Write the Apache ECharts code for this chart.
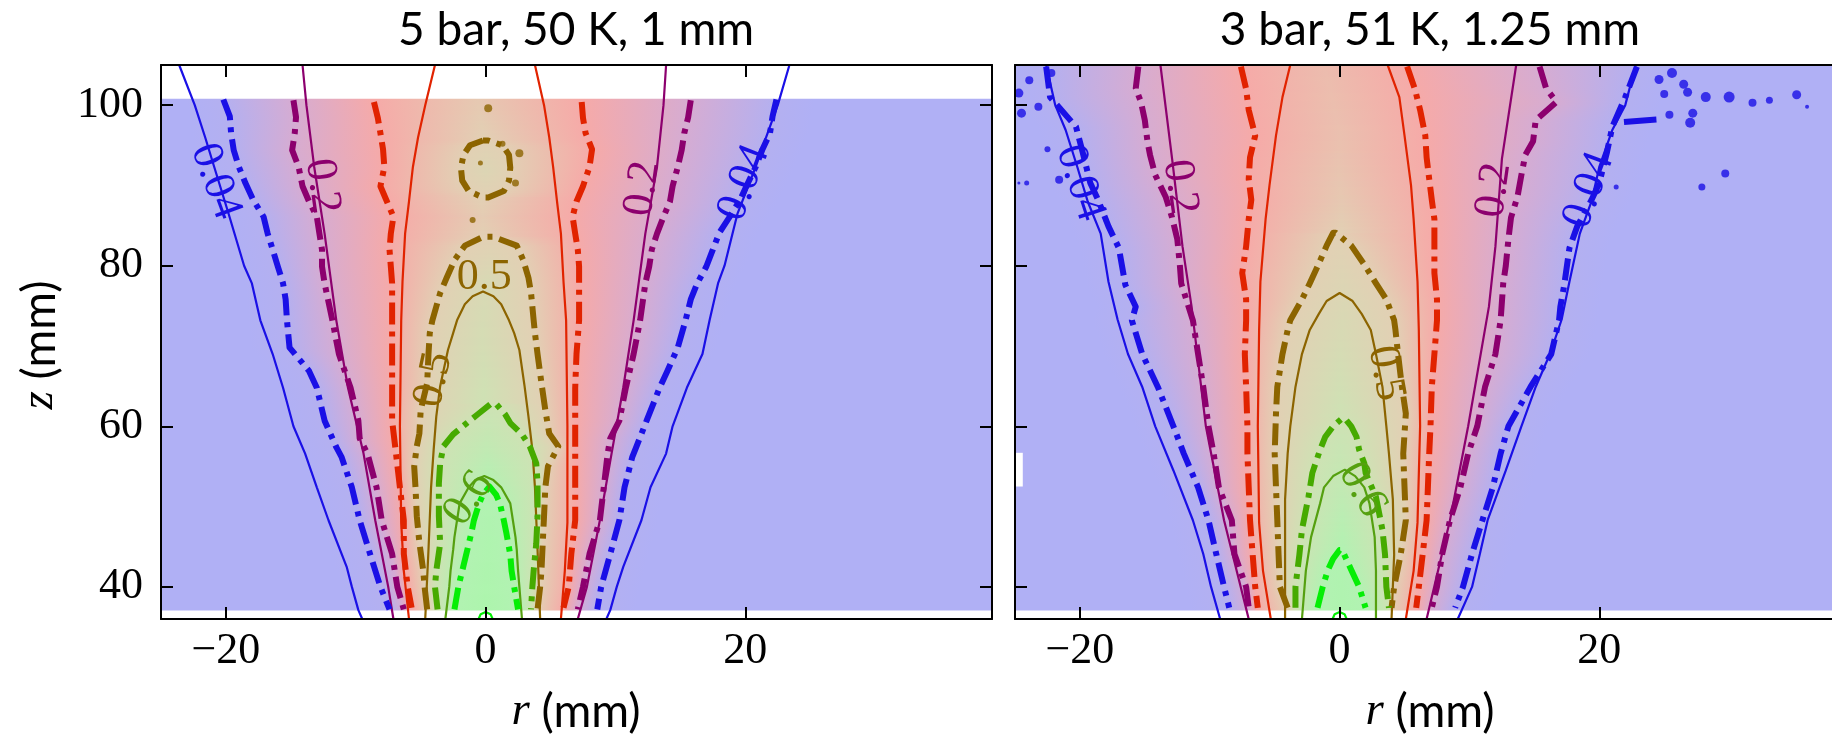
<!DOCTYPE html>
<html>
<head>
<meta charset="utf-8">
<script src="https://cdn.jsdelivr.net/npm/echarts@6/dist/echarts.min.js"></script>
<style>
html, body { margin: 0; padding: 0; background: #fff; }
#chart { width: 1832px; height: 738px; }
</style>
</head>
<body>
<div id="chart"></div>
<script>
// ---------- labels and ticks ----------
const panelTitles = ['5 bar, 50 K, 1 mm', '3 bar, 51 K, 1.25 mm'];
const xTicks = [-20, 0, 20];
const yTicks = [40, 60, 80, 100];
const rRange = [-25, 39];
const zRange = [36, 105];

// contour levels (index 0..5) and their colours
const levels = [0.04, 0.2, 0.35, 0.5, 0.6, 0.8];
const levelColors = ['#1a10e6', '#8c006e', '#e12300', '#8c6400', '#46aa00', '#05ee05'];
const modelColors = ['#1a10e6', '#8c006e', '#e12300', '#8c6400', '#55a010', '#05ee05'];

// colour of the measured field as a function of the mole fraction
const fieldPalette = [[0, '#b0b0f5'], [0.04, '#b4b0f0'], [0.2, '#d6acd2'], [0.35, '#f6aaa8'],
                      [0.5, '#e2d0b4'], [0.6, '#cee2b4'], [0.8, '#b2f2b2'], [1, '#a8f8a8']];

// ---------- panel A : 5 bar, 50 K, 1 mm ----------
// rows are [z, r on the left branch, r on the right branch], z descending
const A_fieldZ = [37.1, 100.75];
const A_exp_004 = [[100.7,-20.2,22.4],[98.6,-19.7,22.1],[96.5,-19.6,21.9],[94.4,-19.4,21.3],[92.3,-19.0,20.8],
  [90.3,-18.5,20.2],[88.2,-17.9,19.6],[86.1,-17.1,18.8],[84.1,-16.8,18.0],[82.0,-16.4,17.5],[79.9,-16.0,17.0],
  [77.8,-15.6,16.3],[75.8,-15.4,15.8],[73.2,-15.3,15.4],[69.8,-15.1,14.8],[66.9,-13.6,14.0],[64.8,-13.0,13.4],
  [60.7,-12.4,12.4],[57.4,-11.5,11.6],[56.2,-11.1,11.3],[52.4,-10.3,10.7],[48.3,-9.7,10.3],[44.1,-8.9,9.6],
  [40.0,-8.1,8.9],[37.2,-7.4,8.6]];
const A_exp_02 = [[100.6,-14.8,15.8],[98.5,-14.6,15.6],[96.5,-14.7,15.3],[94.4,-14.9,15.1],[92.3,-14.4,14.8],
  [89.9,-14.1,14.4],[88.0,-13.6,14.2],[86.1,-13.0,13.7],[84.0,-12.8,13.2],[82.0,-12.6,12.8],[79.9,-12.6,12.6],
  [77.8,-12.4,12.3],[75.5,-12.1,12.1],[73.2,-11.8,11.9],[69.0,-11.3,11.4],[64.8,-10.4,10.8],[60.7,-9.8,10.3],
  [58.5,-9.7,9.6],[56.6,-9.1,9.4],[52.4,-8.4,9.1],[48.3,-8.0,8.8],[44.1,-7.2,8.0],[40.0,-6.8,7.5],[37.2,-6.3,7.1]];
const A_exp_035 = [[100.4,-8.6,7.4],[98.4,-8.3,7.5],[96.5,-8.1,7.7],[94.5,-7.9,8.2],[92.3,-7.8,8.0],[89.9,-8.1,7.5],
  [88.0,-7.6,7.0],[86.1,-7.1,6.7],[84.0,-7.3,6.9],[82.0,-7.4,7.1],[79.9,-7.3,7.2],[77.8,-7.2,7.2],[73.2,-7.2,7.2],
  [69.0,-7.2,7.0],[64.8,-7.2,6.9],[60.7,-7.2,6.9],[56.6,-6.9,6.9],[52.4,-6.6,6.9],[48.3,-6.3,6.9],[44.1,-6.3,6.6],
  [40.0,-6.0,6.4],[37.4,-5.7,6.0]];
const A_exp_05 = [[83.6,-0.2,0.6],[82.5,-1.6,2.4],[80.7,-2.4,2.9],[78.5,-3.0,3.3],[76.6,-3.5,3.5],[73.2,-4.1,3.7],
  [71.6,-4.3,3.8],[69.0,-4.4,4.0],[65.4,-4.5,4.3],[62.0,-5.0,4.6],[59.1,-5.1,4.9],[57.5,-5.3,5.6],[55.0,-5.5,4.8],
  [52.4,-5.4,4.6],[48.8,-5.3,4.5],[45.5,-5.1,4.4],[42.0,-4.8,4.3],[40.0,-4.7,4.2],[37.2,-4.5,4.0]];
const A_exp_05_island = [[95.6,-0.2,0.2],[95.0,-1.2,1.3],[93.8,-1.7,1.8],[92.2,-1.9,1.9],[90.6,-1.8,1.8],
  [89.3,-1.3,1.4],[88.5,-0.2,0.2]];
const A_exp_06 = [[62.8,0.4,0.8],[61.5,-0.6,1.5],[60.4,-1.45,1.9],[59.0,-2.5,2.8],[57.5,-3.25,3.4],[55.4,-3.5,3.9],
  [52.9,-3.6,4.0],[48.8,-3.6,4.0],[45.4,-3.5,3.9],[42.0,-3.8,3.7],[40.0,-3.9,3.6],[37.2,-3.7,3.5]];
const A_exp_08 = [[52.5,0.3,0.4],[51.5,-0.2,0.8],[50.4,-0.5,1.1],[48.3,-0.9,1.4],[46.7,-1.1,1.6],[44.0,-1.5,1.9],
  [42.0,-1.8,2.0],[40.0,-2.1,2.2],[37.2,-2.4,2.5]];

const A_mod_004 = [[105,-23.6,23.4],[100,-22.4,22.5],[96,-21.6,21.6],[92.3,-20.9,20.8],[86.5,-19.8,19.4],
  [80,-18.6,18.4],[77.8,-18.0,17.9],[73.2,-17.35,17.25],[69,-16.4,16.7],[64.8,-15.6,15.5],[60,-14.8,14.4],
  [56.6,-13.9,13.9],[52.4,-13.0,12.7],[48.3,-12.1,12.0],[42.5,-10.7,10.6],[40,-10.3,10.1],[37.1,-9.8,9.6],[36,-9.5,9.3]];
const A_mod_02 = [[105,-14.1,13.9],[100,-13.8,13.7],[92.3,-13.2,13.2],[84,-12.4,12.3],[73.2,-11.5,11.4],
  [64.8,-10.6,10.6],[56.6,-9.4,9.7],[48.3,-8.5,8.8],[40,-7.5,7.8],[36,-7.1,7.1]];
const A_mod_035 = [[105,-3.9,3.8],[100,-4.65,4.5],[96,-5.2,4.9],[92.3,-5.6,5.2],[88,-5.9,5.5],[84,-6.2,5.8],
  [78,-6.4,6.0],[73.2,-6.5,6.2],[60,-6.6,6.3],[48,-6.5,6.3],[42,-6.3,6.1],[36,-5.9,5.8]];
const A_mod_05 = [[76.8,-0.2,-0.2],[76.2,-1.0,0.6],[75.2,-1.6,1.2],[73.2,-2.2,1.8],[71.6,-2.5,2.2],[69.5,-2.9,2.6],
  [65,-3.5,3.0],[61.2,-3.8,3.3],[57.1,-4.0,3.6],[52.4,-4.2,3.8],[44.6,-4.4,4.0],[36,-4.65,4.2]];
const A_mod_06 = [[53.8,-0.1,-0.1],[53.3,-0.8,0.6],[52.4,-1.3,1.2],[50.4,-2.0,1.9],[48.3,-2.2,2.1],[46.2,-2.4,2.3],
  [44.6,-2.5,2.4],[42,-2.7,2.5],[40,-2.8,2.6],[36,-3.1,2.8]];
const A_mod_08 = [[36.87,0,0],[36.6,-0.38,0.38],[36,-0.54,0.54]];

// value on the axis r = 0, [z, value]
const A_center = [[100.75,0.47],[96,0.5],[92,0.53],[88.3,0.5],[86,0.48],[83.6,0.5],[78,0.55],[70,0.57],
  [62.8,0.6],[57,0.7],[52.5,0.8],[45,0.86],[37.1,0.9]];

// contour labels [r, z, text, rotation in degrees, level index]
const A_labels = [[-20.8,90.5,'0.04',-70,0],[19.9,90.3,'0.04',69,0],[-12.6,89.9,'0.2',-82,1],[12.1,89.6,'0.2',82,1],
  [-0.1,78.6,'0.5',0,3],[-4.0,65.8,'0.5',78,3],[-1.3,51.0,'0.6',55,4]];
// isolated specks of the 0.5 contour [r, z, size]
const A_specks = [[0.2,99.6,8],[-1.0,85.7,6],[2.3,90.3,7],[1.3,95.2,6],[2.6,94.0,8],[-0.4,92.8,5]];

// ---------- panel B : 3 bar, 51 K, 1.25 mm ----------
const B_fieldZ = [37.1, 105];
const B_exp_004 = [[104.8,-22.6,22.9],[101,-22.3,22.0],[97.3,-20.3,21.0],[94.2,-19.8,20.6],[90.3,-19.2,20.0],
  [88.2,-18.6,19.4],[84.9,-17.8,18.3],[82.2,-17.0,17.7],[77.6,-16.5,17.3],[74.9,-15.7,17.0],[73.2,-16.0,16.9],
  [69,-15.2,16.3],[64.9,-14.0,14.7],[60,-12.8,13.0],[56.6,-12.0,12.4],[52.4,-10.9,11.8],[48.3,-10.1,11.0],
  [44.1,-9.5,10.2],[40,-8.9,9.5],[37.4,-8.5,8.9]];
const B_exp_02 = [[104.8,-15.5,15.4],[102.1,-15.7,15.9],[100.4,-15.3,16.7],[98.1,-15.0,15.1],[95.5,-14.8,14.9],
  [93.8,-14.6,14.3],[91.3,-14.2,14.0],[88.6,-13.4,13.7],[86,-12.9,13.2],[83.3,-12.5,13.0],[80,-12.3,12.8],
  [77.8,-12.2,12.6],[73.2,-11.3,12.4],[69,-10.9,12.0],[64.9,-10.5,11.2],[60,-10.1,10.6],[56.6,-9.7,9.9],
  [52.4,-9.3,9.3],[48.3,-8.3,8.5],[44.1,-8.1,7.9],[40,-7.2,7.5],[37.4,-7.0,7.1]];
const B_exp_035 = [[104.8,-7.6,5.2],[102,-7.2,5.8],[99.4,-7.0,6.2],[96.2,-6.5,6.6],[93.5,-6.9,6.7],[90.8,-7.0,6.9],
  [88.2,-6.8,7.1],[85.8,-7.0,7.3],[82.4,-7.2,7.3],[79.1,-7.5,7.3],[75.8,-7.2,7.5],[73.2,-7.2,7.5],[69,-7.3,7.3],
  [64.9,-7.2,7.1],[60,-7.1,7.0],[56.6,-7.1,6.9],[52.4,-7.0,6.8],[48.3,-6.9,6.7],[44.1,-6.7,6.4],[40,-6.5,6.1],
  [37.4,-6.3,5.9]];
const B_exp_05 = [[84.1,-0.5,-0.3],[82.5,-1.0,0.9],[79.9,-1.7,2.0],[77.8,-2.3,2.8],[75.8,-2.9,3.6],[73.2,-3.8,4.2],
  [72,-4.0,4.3],[69,-4.4,4.5],[64.9,-4.8,4.8],[61.6,-4.9,5.1],[56.6,-5.0,4.9],[52.4,-4.9,5.0],[48.3,-4.8,5.1],
  [44,-4.7,4.7],[40,-4.6,4.2],[37.4,-4.0,4.0]];
const B_exp_06 = [[61,0.2,0.4],[60,-0.5,0.9],[58.7,-1.1,1.3],[57.1,-1.5,1.5],[55.4,-1.85,1.9],[54.2,-2.1,2.0],
  [51.2,-2.4,2.8],[47.1,-2.9,3.3],[44,-3.1,3.5],[40,-3.4,3.6],[37.4,-3.4,3.8]];
const B_exp_08 = [[44.6,0.0,0.2],[43.5,-0.5,0.5],[42.1,-0.9,0.9],[40,-1.3,1.5],[37.4,-1.7,2.0]];

const B_mod_004 = [[105,-22.6,22.8],[100,-21.9,22.0],[96.9,-21.1,21.0],[92.3,-20.2,20.0],[88,-19.4,19.4],
  [84,-18.4,18.5],[78,-17.8,17.7],[73.3,-17.1,17.1],[69,-16.3,16.2],[64.9,-15.2,15.1],[60,-14.2,14.0],
  [54.5,-12.8,12.8],[48.3,-11.3,11.4],[44.1,-10.5,10.8],[40,-9.9,10.2],[36,-9.2,9.1]];
const B_mod_02 = [[105,-13.8,13.6],[93.3,-12.9,12.5],[82.4,-12.1,12.0],[74.9,-11.4,11.5],[60,-10.3,9.9],
  [48.3,-8.9,8.5],[36,-7.0,6.7]];
const B_mod_035 = [[105,-3.8,3.7],[101,-4.4,4.6],[96.2,-4.9,5.0],[90,-5.4,5.5],[85.8,-5.7,5.7],[78,-6.1,6.0],
  [72,-6.2,6.1],[60,-6.3,6.2],[48,-6.2,6.0],[42,-5.9,5.7],[36,-5.3,5.1]];
const B_mod_05 = [[76.6,0,0],[75.6,-1.0,1.0],[74,-1.6,1.7],[72,-2.3,2.4],[69,-2.9,2.8],[64.9,-3.4,3.3],[60,-3.8,3.6],
  [56.6,-4.0,3.8],[50.9,-4.2,4.1],[44,-4.2,4.2],[36,-4.2,4.0]];
const B_mod_06 = [[54.6,0.4,0.4],[53.8,-0.5,1.2],[52.4,-1.2,1.9],[50.4,-1.5,2.3],[46.2,-2.2,2.7],[42,-2.6,2.8],
  [36,-2.9,2.8]];
const B_mod_08 = [[36.87,0,0],[36.6,-0.38,0.38],[36,-0.54,0.54]];

const B_center = [[105,0.42],[95,0.44],[88,0.47],[84.1,0.5],[75,0.54],[68,0.57],[61,0.6],[53,0.68],[44.6,0.8],[37.1,0.86]];

const B_labels = [[-20.0,90.3,'0.04',-72,0],[19.2,89.4,'0.04',70,0],[-12.3,89.8,'0.2',-82,1],[11.9,89.4,'0.2',82,1],
  [3.55,66.6,'0.5',-80,3],[1.75,52.1,'0.6',-60,4]];
// isolated specks of the 0.04 contour [r, z, size]
const B_specks = [[25.6,104.0,10],[24.6,103.2,9],[26.5,102.6,9],[25.0,101.4,8],[26.8,101.6,9],[28.2,101.0,10],
  [30.0,101.0,11],[31.8,100.3,8],[33.1,100.6,7],[35.2,101.3,9],[36.0,99.8,4],[27.2,99.0,9],[25.4,98.8,8],
  [27.0,97.8,10],[29.7,91.5,8],[27.9,89.8,7],[21.3,89.8,5],
  [-24.7,101.5,9],[-24.5,99.0,9],[-23.9,103.1,8],[-23.2,99.8,8],[-22.2,104.0,8],[-24.1,90.3,5],[-24.7,90.3,3],
  [-21.6,90.7,8],[-18.0,85.7,5],[-22.5,94.5,6]];
const B_streak = [[21.9,97.9],[24.4,98.2]];
// missing measurement cells [r0, r1, z0, z1]
const B_gaps = [[-25,-24.4,52.5,56.7]];

// ---------- styling ----------
const serif = "'Liberation Serif', 'DejaVu Serif', serif";
const sans = "Lato, 'Open Sans', sans-serif";
const dashPattern = [22, 7, 5, 7];

function hexToRgb(h) { return [1, 3, 5].map(i => parseInt(h.slice(i, i + 2), 16)); }
const paletteRgb = fieldPalette.map(p => [p[0], hexToRgb(p[1])]);
function fieldColor(c) {
  c = Math.max(0, Math.min(1, c));
  for (let i = 0; i < paletteRgb.length - 1; i++) {
    const a = paletteRgb[i], b = paletteRgb[i + 1];
    if (c <= b[0]) {
      const t = (c - a[0]) / (b[0] - a[0]);
      const rgb = a[1].map((v, k) => Math.round(v + (b[1][k] - v) * t));
      return 'rgb(' + rgb.join(',') + ')';
    }
  }
  return 'rgb(' + paletteRgb[paletteRgb.length - 1][1].join(',') + ')';
}

// r of one branch (k = 1 left, 2 right) at height z
function branchAt(rows, z, k) {
  const n = rows.length;
  if (z > rows[0][0] || z < rows[n - 1][0]) return null;
  for (let i = 0; i < n - 1; i++) {
    const a = rows[i], b = rows[i + 1];
    if (z <= a[0] && z >= b[0]) {
      const t = a[0] === b[0] ? 0 : (a[0] - z) / (a[0] - b[0]);
      return a[k] + (b[k] - a[k]) * t;
    }
  }
  return rows[n - 1][k];
}
function centerAt(arr, z) {
  if (z >= arr[0][0]) return arr[0][1];
  for (let i = 0; i < arr.length - 1; i++) {
    const a = arr[i], b = arr[i + 1];
    if (z <= a[0] && z >= b[0]) return a[1] + (b[1] - a[1]) * (a[0] - z) / (a[0] - b[0]);
  }
  return arr[arr.length - 1][1];
}

// horizontal rows of the measured field, each a colour ramp through the contour crossings
function buildRows(zExt, contours, center) {
  const rows = [];
  const dz = 0.25, fade = 3, span = rRange[1] - rRange[0];
  for (let z0 = zExt[0]; z0 < zExt[1] - 1e-6; z0 += dz) {
    const z1 = Math.min(z0 + dz, zExt[1]);
    const zm = (z0 + z1) / 2;
    const L = [], R = [];
    contours.forEach(c => {
      let zq = zm;
      const top = c.rows[0][0], bot = c.rows[c.rows.length - 1][0];
      if (!c.closedTop) zq = Math.min(zq, top);
      if (!c.closedBottom) zq = Math.max(zq, bot);
      const rl = branchAt(c.rows, zq, 1);
      if (rl === null) return;
      L.push([rl, levels[c.level]]);
      R.push([branchAt(c.rows, zq, 2), levels[c.level]]);
    });
    L.sort((a, b) => a[1] - b[1]);
    R.sort((a, b) => a[1] - b[1]);
    for (let i = 1; i < L.length; i++) {
      L[i][0] = Math.max(L[i][0], L[i - 1][0] + 0.05);
      R[i][0] = Math.min(R[i][0], R[i - 1][0] - 0.05);
    }
    const knots = [[rRange[0], 0]];
    let cIn = centerAt(center, zm);
    if (L.length) {
      knots.push([Math.max(rRange[0], L[0][0] - fade), 0]);
      L.forEach(k => knots.push(k));
      const li = L[L.length - 1], ri = R[R.length - 1];
      cIn = Math.max(cIn, li[1]);
      knots.push([(li[0] + ri[0]) / 2, cIn]);
      R.slice().reverse().forEach(k => knots.push(k));
      knots.push([Math.min(rRange[1], R[0][0] + fade), 0]);
    }
    knots.push([rRange[1], 0]);
    let last = 0;
    const stops = knots.map(k => {
      let off = (k[0] - rRange[0]) / span;
      off = Math.max(last, Math.min(1, off));
      last = off;
      return { offset: off, color: fieldColor(k[1]) };
    });
    rows.push({ z0: z0, z1: z1, stops: stops });
  }
  return rows;
}

const panels = [
  {
    fieldZ: A_fieldZ, center: A_center, labels: A_labels, specks: A_specks, speckColor: levelColors[3],
    exp: [
      { rows: A_exp_004, level: 0 }, { rows: A_exp_02, level: 1 }, { rows: A_exp_035, level: 2 },
      { rows: A_exp_05, level: 3, closedTop: true }, { rows: A_exp_05_island, level: 3, closedTop: true, closedBottom: true },
      { rows: A_exp_06, level: 4, closedTop: true }, { rows: A_exp_08, level: 5, closedTop: true }
    ],
    model: [
      { rows: A_mod_004, level: 0 }, { rows: A_mod_02, level: 1 }, { rows: A_mod_035, level: 2 },
      { rows: A_mod_05, level: 3, closedTop: true }, { rows: A_mod_06, level: 4, closedTop: true },
      { rows: A_mod_08, level: 5, closedTop: true }
    ],
    gaps: [], streak: null
  },
  {
    fieldZ: B_fieldZ, center: B_center, labels: B_labels, specks: B_specks, speckColor: levelColors[0],
    exp: [
      { rows: B_exp_004, level: 0 }, { rows: B_exp_02, level: 1 }, { rows: B_exp_035, level: 2 },
      { rows: B_exp_05, level: 3, closedTop: true }, { rows: B_exp_06, level: 4, closedTop: true },
      { rows: B_exp_08, level: 5, closedTop: true }
    ],
    model: [
      { rows: B_mod_004, level: 0 }, { rows: B_mod_02, level: 1 }, { rows: B_mod_035, level: 2 },
      { rows: B_mod_05, level: 3, closedTop: true }, { rows: B_mod_06, level: 4, closedTop: true },
      { rows: B_mod_08, level: 5, closedTop: true }
    ],
    gaps: B_gaps, streak: B_streak
  }
];

function contourPaths(c) {
  const left = c.rows.map(t => [t[1], t[0]]);
  const right = c.rows.map(t => [t[2], t[0]]);
  if (c.closedTop && c.closedBottom) return [left.concat(right.slice().reverse(), [left[0]])];
  if (c.closedTop) return [left.slice().reverse().concat(right)];
  return [left, right];
}

const tickFmt = v => (v < 0 ? '\u2212' + Math.abs(v) : String(v));

function xAxisDef(grid, pos, showLabels) {
  return {
    type: 'value', gridIndex: grid, position: pos, min: rRange[0], max: rRange[1], z: 10,
    axisLine: { show: true, onZero: false, lineStyle: { color: '#000', width: 2 } },
    axisTick: { show: true, inside: true, length: 12, customValues: xTicks, lineStyle: { color: '#000', width: 2 } },
    axisLabel: { show: showLabels, customValues: xTicks, margin: 10, fontFamily: serif, fontSize: 44, color: '#000', formatter: tickFmt },
    splitLine: { show: false }
  };
}
function yAxisDef(grid, pos, showLabels) {
  return {
    type: 'value', gridIndex: grid, position: pos, min: zRange[0], max: zRange[1], z: 10,
    axisLine: { show: true, onZero: false, lineStyle: { color: '#000', width: 2 } },
    axisTick: { show: true, inside: true, length: 12, customValues: yTicks, lineStyle: { color: '#000', width: 2 } },
    axisLabel: { show: showLabels, customValues: yTicks, margin: 18, fontFamily: serif, fontSize: 44, color: '#000', formatter: tickFmt },
    splitLine: { show: false }
  };
}

const series = [];
panels.forEach((p, gi) => {
  const xi = gi * 2, yi = gi * 2;
  const rows = buildRows(p.fieldZ, p.exp, p.center);
  series.push({
    type: 'custom', xAxisIndex: xi, yAxisIndex: yi, clip: true, silent: true, z: 1,
    data: rows.map(r => [rRange[0], r.z0, rRange[1], r.z1]),
    encode: { x: [0, 2], y: [1, 3] },
    renderItem: function (params, api) {
      const row = rows[params.dataIndex];
      const p0 = api.coord([api.value(0), api.value(3)]);
      const p1 = api.coord([api.value(2), api.value(1)]);
      return {
        type: 'rect',
        shape: { x: p0[0], y: p0[1] - 0.4, width: p1[0] - p0[0], height: p1[1] - p0[1] + 0.8 },
        style: { fill: { type: 'linear', x: 0, y: 0, x2: 1, y2: 0, global: false, colorStops: row.stops } }
      };
    }
  });
  if (p.gaps.length) {
    series.push({
      type: 'custom', xAxisIndex: xi, yAxisIndex: yi, clip: true, silent: true, z: 2,
      data: p.gaps, encode: { x: [0, 1], y: [2, 3] },
      renderItem: function (params, api) {
        const a = api.coord([api.value(0), api.value(3)]);
        const b = api.coord([api.value(1), api.value(2)]);
        return { type: 'rect', shape: { x: a[0], y: a[1], width: b[0] - a[0], height: b[1] - a[1] }, style: { fill: '#ffffff' } };
      }
    });
  }
  // model contours: thin solid lines
  p.model.forEach(c => {
    contourPaths(c).forEach(path => series.push({
      type: 'line', xAxisIndex: xi, yAxisIndex: yi, data: path, showSymbol: false, symbol: 'none',
      silent: true, z: 3, clip: true,
      lineStyle: { color: modelColors[c.level], width: 2.2, type: 'solid' }
    }));
  });
  // measured contours: thick dash-dot lines
  p.exp.forEach(c => {
    contourPaths(c).forEach(path => series.push({
      type: 'line', xAxisIndex: xi, yAxisIndex: yi, data: path, showSymbol: false, symbol: 'none',
      silent: true, z: 4, clip: true,
      lineStyle: { color: levelColors[c.level], width: 6, type: dashPattern, cap: 'butt', join: 'round' }
    }));
  });
  if (p.streak) {
    series.push({
      type: 'line', xAxisIndex: xi, yAxisIndex: yi, data: p.streak, showSymbol: false, symbol: 'none',
      silent: true, z: 4, lineStyle: { color: levelColors[0], width: 6 }
    });
  }
  series.push({
    type: 'scatter', xAxisIndex: xi, yAxisIndex: yi, silent: true, z: 4, clip: true,
    data: p.specks.map(s => ({ value: [s[0], s[1]], symbolSize: s[2] })),
    itemStyle: { color: p.speckColor }
  });
  // contour labels of the model lines
  const labs = p.labels;
  series.push({
    type: 'custom', xAxisIndex: xi, yAxisIndex: yi, silent: true, z: 5, clip: false,
    data: labs.map(l => [l[0], l[1]]),
    renderItem: function (params, api) {
      const l = labs[params.dataIndex];
      const pt = api.coord([api.value(0), api.value(1)]);
      return {
        type: 'text', x: pt[0], y: pt[1], rotation: l[3] * Math.PI / 180,
        style: { text: l[2], fill: modelColors[l[4]], fontFamily: serif, fontSize: 44,
                 align: 'center', verticalAlign: 'middle', textAlign: 'center', textVerticalAlign: 'middle' }
      };
    }
  });
});

const richName = {
  i: { fontFamily: serif, fontStyle: 'italic', fontSize: 47 },
  s: { fontFamily: sans, fontSize: 46 }
};

const option = {
  animation: false,
  backgroundColor: '#ffffff',
  grid: [
    { left: 161, top: 65, width: 831, height: 554, outerBoundsMode: 'none', containLabel: false },
    { left: 1015, top: 65, width: 831, height: 554, outerBoundsMode: 'none', containLabel: false }
  ],
  xAxis: [xAxisDef(0, 'bottom', true), xAxisDef(0, 'top', false), xAxisDef(1, 'bottom', true), xAxisDef(1, 'top', false)],
  yAxis: [yAxisDef(0, 'left', true), yAxisDef(0, 'right', false), yAxisDef(1, 'left', false), yAxisDef(1, 'right', false)],
  series: series,
  graphic: [
    { type: 'text', x: 576, y: 30, z: 20, style: { text: panelTitles[0], fontFamily: sans, fontSize: 46, fill: '#000',
      textAlign: 'center', textVerticalAlign: 'middle', align: 'center', verticalAlign: 'middle' } },
    { type: 'text', x: 1430, y: 30, z: 20, style: { text: panelTitles[1], fontFamily: sans, fontSize: 46, fill: '#000',
      textAlign: 'center', textVerticalAlign: 'middle', align: 'center', verticalAlign: 'middle' } },
    { type: 'text', x: 576, y: 712, z: 20, style: { text: '{i|r}{s| (mm)}', fill: '#000',
      textAlign: 'center', textVerticalAlign: 'middle', align: 'center', verticalAlign: 'middle', rich: richName } },
    { type: 'text', x: 1430, y: 712, z: 20, style: { text: '{i|r}{s| (mm)}', fill: '#000',
      textAlign: 'center', textVerticalAlign: 'middle', align: 'center', verticalAlign: 'middle', rich: richName } },
    { type: 'text', x: 40, y: 345, z: 20, rotation: Math.PI / 2, style: { text: '{i|z}{s| (mm)}', fill: '#000',
      textAlign: 'center', textVerticalAlign: 'middle', align: 'center', verticalAlign: 'middle', rich: richName } }
  ]
};

const chart = echarts.init(document.getElementById('chart'), null, { renderer: 'canvas', width: 1832, height: 738 });
chart.setOption(option);
</script>
</body>
</html>
